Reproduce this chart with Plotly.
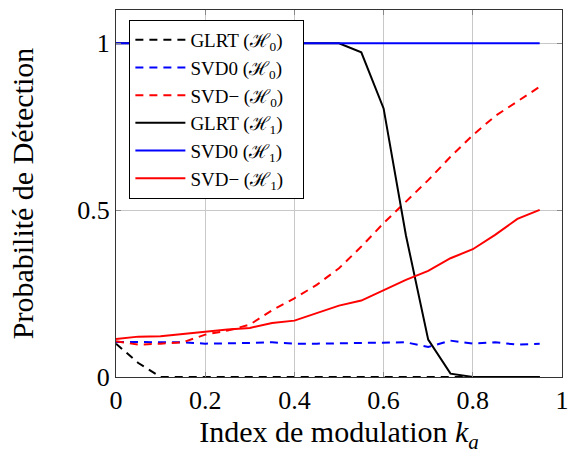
import plotly.graph_objects as go

ka = [0.0, 0.05, 0.1, 0.15, 0.2, 0.25, 0.3, 0.35, 0.4, 0.45, 0.5, 0.55, 0.6, 0.65, 0.7, 0.75, 0.8, 0.85, 0.9, 0.95]

glrt_h0 = [0.10, 0.042, 0.0, 0.0, 0.0, 0.0, 0.0, 0.0, 0.0, 0.0, 0.0, 0.0, 0.0, 0.0, 0.0, 0.0, 0.0, 0.0, 0.0, 0.0]
svd0_h0 = [0.105, 0.104, 0.104, 0.104, 0.100, 0.100, 0.102, 0.104, 0.100, 0.100, 0.101, 0.102, 0.104, 0.104, 0.090, 0.109, 0.100, 0.104, 0.097, 0.100]
svdm_h0 = [0.107, 0.097, 0.100, 0.104, 0.127, 0.139, 0.157, 0.200, 0.236, 0.276, 0.326, 0.391, 0.461, 0.526, 0.590, 0.660, 0.725, 0.782, 0.825, 0.870]
glrt_h1 = [1.0, 1.0, 1.0, 1.0, 1.0, 1.0, 1.0, 1.0, 1.0, 1.0, 1.0, 0.973, 0.805, 0.425, 0.112, 0.01, 0.0, 0.0, 0.0, 0.0]
svd0_h1 = [1.0] * 20
svdm_h1 = [0.114, 0.121, 0.122, 0.129, 0.136, 0.142, 0.147, 0.162, 0.169, 0.192, 0.214, 0.229, 0.259, 0.291, 0.318, 0.356, 0.383, 0.426, 0.474, 0.501]

x_ticks = [0, 0.2, 0.4, 0.6, 0.8, 1]
x_tick_labels = ["0", "0.2", "0.4", "0.6", "0.8", "1"]
y_ticks = [0, 0.5, 1]
y_tick_labels = ["0", "0.5", "1"]

PAD = "\u00a0\u00a0\u00a0"
series = [
    ("GLRT (ℋ<sub>0</sub>)", glrt_h0, "black", "8px,6px"),
    ("SVD0 (ℋ<sub>0</sub>)", svd0_h0, "blue", "8px,6px"),
    ("SVD− (ℋ<sub>0</sub>)", svdm_h0, "red", "8px,6px"),
    ("GLRT (ℋ<sub>1</sub>)", glrt_h1, "black", "solid"),
    ("SVD0 (ℋ<sub>1</sub>)", svd0_h1, "blue", "solid"),
    ("SVD− (ℋ<sub>1</sub>)", svdm_h1, "red", "solid"),
]

fig = go.Figure()
for i, (name, vals, col, dash) in enumerate(series):
    fig.add_trace(go.Scatter(
        x=ka, y=vals, mode="lines", name=name + PAD,
        line=dict(color=col, width=2, dash=dash),
    ))

FONT = "Liberation Serif"
axis_common = dict(
    showgrid=True, gridcolor="#c8c8c8", gridwidth=1,
    showline=True, linecolor="#333", linewidth=1.2, mirror="ticks",
    ticks="inside", ticklen=5, tickcolor="#888", zeroline=False,
    tickfont=dict(family=FONT, size=26, color="black"),
    automargin=False, ticklabeloverflow="allow",
)

fig.update_layout(
    width=569, height=455,
    margin=dict(l=115.5, r=7, t=10, b=78),
    paper_bgcolor="white", plot_bgcolor="white",
    font=dict(family=FONT, color="black"),
    xaxis=dict(range=[0, 1], tickvals=x_ticks, ticktext=x_tick_labels,
               title=dict(text="Index de modulation <i>k<sub>a</sub></i>",
                          font=dict(family=FONT, size=30), standoff=6),
               **axis_common),
    yaxis=dict(range=[0, 1.1], tickvals=y_ticks, ticktext=y_tick_labels,
               title=dict(text="Probabilité de Détection",
                          font=dict(family=FONT, size=30), standoff=34),
               **axis_common),
    legend=dict(x=0.03, y=0.973, xanchor="left", yanchor="top",
                bgcolor="white", bordercolor="black", borderwidth=1,
                font=dict(family=FONT, size=19, color="black"),
                traceorder="normal", itemwidth=50),
    showlegend=True,
)

# remove the default 8px page margin so the 569x455 figure fills the window exactly
fig.write_html("out.html", config={"displayModeBar": False},
               post_script="document.body.style.margin='0';document.body.style.overflow='hidden';")
